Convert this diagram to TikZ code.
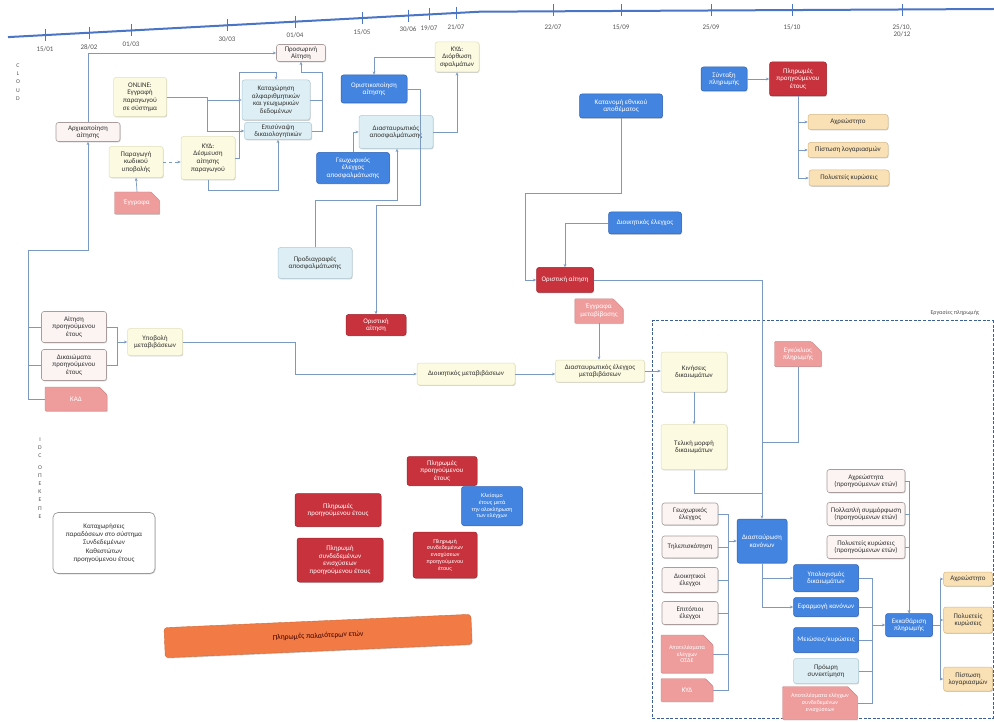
\documentclass[tikz,border=0pt]{standalone}
\usepackage{fontspec}
\setmainfont{Carlito}
\usetikzlibrary{arrows.meta,shapes.misc,shadows}
\definecolor{linec}{HTML}{7B9AC2}
\definecolor{tl}{HTML}{4A74C6}
\definecolor{ylw}{HTML}{FCFAE0}
\definecolor{ylwb}{HTML}{E2E0BC}
\definecolor{lbl}{HTML}{DDEFF4}
\definecolor{lblb}{HTML}{AFCBD8}
\definecolor{ppk}{HTML}{FBF4F3}
\definecolor{ppkb}{HTML}{A89C9C}
\definecolor{blu}{HTML}{4284E0}
\definecolor{blub}{HTML}{2E62B4}
\definecolor{rd}{HTML}{C8323C}
\definecolor{rdb}{HTML}{9E2530}
\definecolor{pnk}{HTML}{EE9C9C}
\definecolor{bge}{HTML}{F9E1B5}
\definecolor{bgeb}{HTML}{D7B886}
\definecolor{org}{HTML}{F27B45}
\definecolor{dashc}{HTML}{3D5F96}
\definecolor{txtc}{HTML}{333333}
\definecolor{labc}{HTML}{555555}
\newcommand\fn{\fontsize{7}{7.6}\selectfont}
\newcommand\fsm{\fontsize{6}{6.8}\selectfont}
\newcommand\ltick[2]{%
  \pgfmathsetmacro\tyy{37.1-0.0538*(#1-8)}%
  \draw[tl,line width=0.9pt] (#1,\tyy-6) -- (#1,\tyy+6);
  \node[font=\fn,text=labc] at (#1,\tyy+14) {#2};}
\newcommand\rtick[2]{%
  \draw[tl,line width=0.9pt] (#1,4) -- (#1,16);
  \node[font=\fn,text=labc,align=center,anchor=north] at (#1,21) {#2};}
\tikzset{
  bx/.style 2 args={rounded corners=2.5pt, align=center, font=\fn, inner sep=0.5pt,
     minimum width=#1pt, minimum height=#2pt, text=txtc,
     drop shadow={shadow xshift=0.7pt, shadow yshift=-0.9pt, opacity=0.3, fill=black!60}},
  yb/.style 2 args={bx={#1}{#2}, fill=ylw, draw=ylwb, line width=0.5pt},
  lb/.style 2 args={bx={#1}{#2}, fill=lbl, draw=lblb, line width=0.5pt},
  pp/.style 2 args={bx={#1}{#2}, fill=ppk, draw=ppkb, line width=0.6pt},
  bl/.style 2 args={bx={#1}{#2}, fill=blu, draw=blub, line width=0.5pt, text=white},
  rdx/.style 2 args={bx={#1}{#2}, fill=rd, draw=rdb, line width=0.5pt, text=white},
  pk/.style 2 args={bx={#1}{#2}, chamfered rectangle, chamfered rectangle corners=north east,
     chamfered rectangle xsep=5pt, chamfered rectangle ysep=5pt, fill=pnk, draw=pnk!85!black,
     line width=0.4pt, text=white, rounded corners=0.8pt},
  bg/.style 2 args={bx={#1}{#2}, fill=bge, draw=bgeb, line width=0.5pt},
  conn/.style={draw=linec, line width=0.7pt},
  arr/.style={conn, -{Stealth[length=3.3pt,width=2.8pt]}},
  vlab/.style={font=\fontsize{5.8}{8.2}\selectfont, text=labc, align=center, inner sep=0pt},
}
\begin{document}
\begin{tikzpicture}[x=1pt,y=-1pt]
\useasboundingbox[fill=white] (0,0) rectangle (994,722);
% ---------- timeline
\draw[tl,line width=2pt] (8,37.1) -- (480,11.7) -- (994,9);
\ltick{45}{15/01}
\ltick{89}{28/02}
\ltick{131}{01/03}
\ltick{227}{30/03}
\ltick{295}{01/04}
\ltick{362}{15/05}
\ltick{408}{30/06}
\ltick{429}{19/07}
\ltick{456}{21/07}
\rtick{553}{22/07}
\rtick{621}{15/09}
\rtick{711}{25/09}
\rtick{792}{15/10}
\rtick{902}{25/10,\\20/12}
% ---------- side labels
\node[vlab] (cloud) at (18,82) {C\\L\\O\\U\\D};
\node[vlab] (idc) at (40,478) {I\\D\\C\\[3pt]O\\Π\\E\\K\\E\\Π\\E};
% ---------- left cloud nodes
\node[pp={64}{19}] (arx) at (88,132) {Αρχικοποίηση\\αίτησης};
\node[yb={53}{39}] (onl) at (140,97) {ONLINE:\\Εγγραφή\\παραγωγού\\σε σύστημα};
\node[yb={54}{31}] (kod) at (136,162) {Παραγωγή\\κωδικού\\υποβολής};
\node[pk={45}{22}] (doc1) at (137,203) {Έγγραφα};
\node[yb={54}{43}] (kyd1) at (208,158) {ΚΥΔ:\\Δέσμευση\\αίτησης\\παραγωγού};
\node[lb={68}{40}] (kat) at (276,100) {Καταχώρηση\\αλφαριθμητικών\\και γεωχωρικών\\δεδομένων};
\node[lb={67}{17}] (epi) at (278,131) {Επισύναψη\\δικαιολογητικών};
\node[pp={49}{17}] (pros) at (301,53) {Προσωρινή\\Αίτηση};
\node[bl={66}{28}] (orist) at (374,89) {Οριστικοποίηση\\αίτησης};
\node[yb={44}{30}] (kyd2) at (457,57) {ΚΥΔ:\\Διόρθωση\\σφαλμάτων};
\node[lb={74}{33}] (dias) at (396,132) {Διασταυρωτικός\\αποσφαλμάτωσης};
\node[bl={73}{31}] (geo) at (353,168) {Γεωχωρικός\\έλεγχος\\αποσφαλμάτωσης};
\node[lb={74}{31}] (prod) at (315,263) {Προδιαγραφές\\αποσφαλμάτωσης};
\node[rdx={60}{21}] (orai) at (376,325) {Οριστική\\αίτηση};
\node[pp={65}{31}] (ait) at (74,327) {Αίτηση\\προηγούμενου\\έτους};
\node[pp={65}{31}] (dik) at (74,365) {Δικαιώματα\\προηγούμενου\\έτους};
\node[pk={62}{24}] (kad) at (76,399) {ΚΑΔ};
\node[yb={55}{27}] (ypo) at (155,342) {Υποβολή\\μεταβιβάσεων};
\node[yb={98}{22}] (dioik) at (466,374) {Διοικητικός μεταβιβάσεων};
% ---------- bottom left
\node[bx={102}{61}, fill=white, draw=black!40, line width=0.7pt, rounded corners=5pt,
      font=\fontsize{7}{8.3}\selectfont] (katx) at (104,543)
      {Καταχωρήσεις\\παραδόσεων στο σύστημα\\Συνδεδεμένων\\Καθεστώτων\\προηγούμενου έτους};
\node[rdx={70}{29}] (pl1) at (442,471) {Πληρωμές\\προηγούμενου\\έτους};
\node[rdx={86}{33}] (pl2) at (338,510) {Πληρωμές\\προηγούμενου έτους};
\node[rdx={86}{44}] (pl3) at (340,560) {Πληρωμή\\συνδεδεμένων\\ενισχύσεων\\προηγούμενου έτους};
\node[rdx={64}{46}, font=\fsm] (pl4) at (445,555) {Πληρωμή\\συνδεδεμένων\\ενισχύσεων\\προηγούμενου\\έτους};
\node[bl={61}{39}, font=\fsm] (kle) at (492,506) {Κλείσιμο\\έτους μετά\\την ολοκλήρωση\\των ελέγχων};
\node[bx={307}{30}, fill=org, draw=org!85!black, line width=0.4pt, rotate=2.5, rounded corners=3pt,
      text=black!75!red, font=\fontsize{7.5}{8}\selectfont] (orng) at (318,636) {Πληρωμές παλαιότερων ετών};
% ---------- right top
\node[bl={46}{24}] (exo) at (724,79) {Σύνταξη\\πληρωμής};
\node[rdx={57}{34}] (plr) at (798,79) {Πληρωμές\\προηγούμενου\\έτους};
\node[bg={80}{15}] (ax1) at (848,122) {Αχρεώστητο};
\node[bg={80}{15}] (pis1) at (848,150) {Πίστωση λογαριασμών};
\node[bg={80}{16}] (pol1) at (849,178) {Πολυετείς κυρώσεις};
\node[bl={83}{24}] (kat2) at (621,106) {Κατανομή εθνικού\\αποθέματος};
\node[bl={73}{22}] (dio2) at (645,223) {Διοικητικός έλεγχος};
\node[rdx={57}{25}] (ora2) at (565,280) {Οριστική αίτηση};
\node[pk={46}{23}] (doc2) at (599,311) {Έγγραφα\\μεταβίβασης};
\node[yb={89}{22}] (dme) at (600,371) {Διασταυρωτικός έλεγχος\\μεταβιβάσεων};
% ---------- payment group
\node[draw=dashc, dashed, line width=1pt, dash pattern=on 3pt off 1.6pt, minimum width=341pt,
      minimum height=397pt, inner sep=0pt] (grp) at (822.5,519.5) {};
\node[font=\fsm, text=labc] (grpl) at (955,313) {Εργασίες πληρωμής};
\node[yb={66}{40}] (kin) at (694,372) {Κινήσεις\\δικαιωμάτων};
\node[yb={66}{45}] (tel) at (694,447) {Τελική μορφή\\δικαιωμάτων};
\node[pk={47}{23}] (doc3) at (798,354) {Εγκύκλιος\\πληρωμής};
\node[pp={56}{22}] (gx) at (690,514) {Γεωχωρικός\\έλεγχος};
\node[pp={56}{22}] (tile) at (690,547) {Τηλεπισκόπηση};
\node[pp={56}{25}] (dioe) at (690,580) {Διοικητικοί\\έλεγχοι};
\node[pp={56}{23}] (epit) at (690,613) {Επιτόπιοι\\έλεγχοι};
\node[pk={52}{38}, font=\fsm] (doc4) at (687,654) {Αποτελέσματα\\ελέγχων\\ΟΣΔΕ};
\node[pk={52}{23}] (doc5) at (687,690) {ΚΥΔ};
\node[bl={50}{44}] (dks) at (762,541) {Διασταύρωση\\κανόνων};
\node[bl={65}{27}] (b1) at (826,578) {Υπολογισμός\\δικαιωμάτων};
\node[bl={65}{19}] (b2) at (826,607) {Εφαρμογή κανόνων};
\node[bl={65}{25}] (b3) at (826,640) {Μειώσεις/κυρώσεις};
\node[lb={65}{25}] (pro) at (826,671) {Πρόωρη\\συνεκτίμηση};
\node[pk={75}{33}, font=\fsm] (doc6) at (820,703) {Αποτελέσματα ελέγχων\\συνδεδεμένων\\ενισχύσεων};
\node[pp={78}{23}] (ax2) at (866,481) {Αχρεώστητα\\(προηγούμενων ετών)};
\node[pp={78}{23}] (pol2) at (866,514) {Πολλαπλή συμμόρφωση\\(προηγούμενων ετών)};
\node[pp={78}{23}] (pol3) at (866,547) {Πολυετείς κυρώσεις\\(προηγούμενων ετών)};
\node[bl={47}{23}] (ekk) at (909,625) {Εκκαθάριση\\πληρωμής};
\node[bg={49}{14}] (ax3) at (968,579) {Αχρεώστητο};
\node[bg={49}{26}] (pol4) at (968,620) {Πολυετείς\\κυρώσεις};
\node[bg={49}{24}] (pis2) at (968,679) {Πίστωση\\λογαριασμών};
% ---------- connectors, left
\coordinate (busL) at (28,250);
\draw[arr] (arx.north) |- (pros.west);
\draw[arr] (kad.west) -| (busL) -| (arx.south);
\draw[conn] (ait.west) -- (ait.west -| busL);
\draw[conn] (dik.west) -- (dik.west -| busL);
\coordinate (busY) at (117,342);
\draw[conn] (ait.east) -| (busY);
\draw[conn] (dik.east) -| (busY);
\draw[arr] (busY) -- (ypo.west);
\draw[arr] (ypo.east) -- (295,342) |- (dioik.west);
\draw[arr] (orist.east) -| (420,205) -| (orai.north);
\coordinate (c1) at (397,200);
\draw[arr] (prod.north) |- (c1) -- (c1 |- dias.south);
\draw[arr] (geo.north) |- (dias.west);
\draw[arr] (dias.east) -| (kyd2.south);
\draw[arr] (kyd2.west) -| (orist.north);
\draw[conn] (kat.east) -- (322,100);
\draw[arr] (epi.east) -| (322,72) -| (pros.south);
\draw[arr] (onl.east) -- (207,97) |- (kat.west);
\draw[arr] (207,97) |- (epi.west);
\draw[arr] (kyd1.east) -| (239,72) -| (kat.north);
\draw[arr] (kyd1.south) |- (278,190) -- (epi.south);
\draw[arr, dashed] (kod.east) -- (kod.east -| kyd1.west);
\draw[arr] (doc1.north) -- (kod.south);
% ---------- connectors, right
\draw[arr] (dioik.east) -- (dioik.east -| dme.west);
\draw[arr] (exo.east) -- (plr.west);
\draw[arr] (plr.south) |- (ax1.west);
\draw[arr] (plr.south) |- (pis1.west);
\draw[arr] (plr.south) |- (pol1.west);
\draw[arr] (kat2.south) |- (525,193) |- (ora2.west);
\draw[arr] (dio2.west) -| (ora2.north);
\draw[arr] (ora2.east) -| (dks.north);
\draw[conn] (doc3.south) |- (762,442);
\draw[conn] (tel.south) |- (762,493);
\draw[arr] (kin.south) -- (tel.north);
\draw[arr] (dme.east) -- (dme.east -| kin.west);
\draw[arr] (doc2.south) -- (doc2.south |- dme.north);
\coordinate (bus2) at (728,541);
\draw[conn] (gx.east) -| (bus2);
\draw[conn] (tile.east) -| (bus2);
\draw[conn] (dioe.east) -| (bus2);
\draw[conn] (epit.east) -| (bus2);
\draw[conn] (doc4.east) -| (bus2);
\draw[conn] (doc5.east) -| (bus2);
\draw[arr] (bus2) -- (dks.west);
\draw[arr] (dks.south) |- (b1.west);
\draw[arr] (dks.south) |- (b2.west);
\coordinate (bus3) at (872,625);
\draw[conn] (b1.east) -| (bus3);
\draw[conn] (b2.east) -| (bus3);
\draw[conn] (b3.east) -| (bus3);
\draw[conn] (pro.east) -| (bus3);
\draw[conn] (doc6.east) -| (bus3);
\draw[arr] (bus3) -- (ekk.west);
\draw[arr] (ax2.east) -| (ekk.north);
\draw[conn] (pol2.east) -| (ekk.north);
\draw[conn] (pol3.east) -| (ekk.north);
\coordinate (bus4) at (940,625);
\draw[conn] (ekk.east) -- (bus4);
\draw[arr] (bus4) |- (ax3.west);
\draw[arr] (bus4) |- (pol4.west);
\draw[arr] (bus4) |- (pis2.west);
\end{tikzpicture}
\end{document}
